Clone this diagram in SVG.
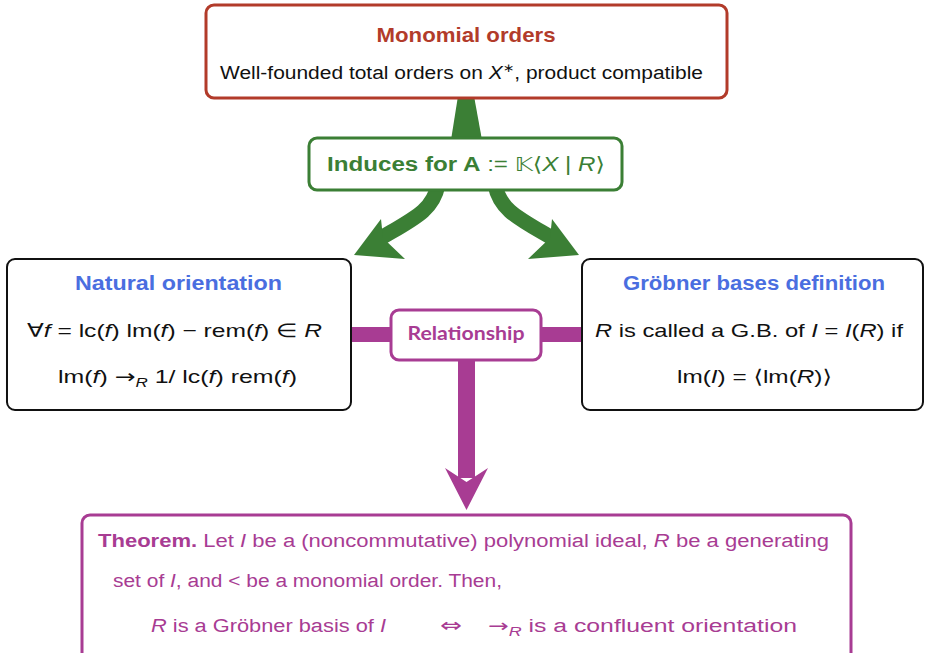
<svg xmlns="http://www.w3.org/2000/svg" width="925" height="653" viewBox="0 0 925 653">
<style>
.box{fill:#fff;stroke-linejoin:round}
.t{font-family:"Liberation Sans","DejaVu Sans",sans-serif}
.m{font-family:"DejaVu Sans","Liberation Sans",sans-serif}
.b{font-weight:bold}
.i{font-style:italic}
.red{fill:#b23b2a}
.grn{fill:#3b7f35}
.blu{fill:#4a6ee0}
.pur{fill:#a83c93}
.blk{fill:#111}
</style>
<rect width="925" height="653" fill="#fff"/>
<g id="connectors">
  <polygon points="458,96 474,96 482,140 451,140" fill="#3b7f35"/>
  <path d="M438 185 C433 210 415 218 381 238" fill="none" stroke="#3b7f35" stroke-width="15"/>
  <polygon points="354,255 381,219 383,238 405,259" fill="#3b7f35"/>
  <path d="M495 185 C500 210 518 218 552 238" fill="none" stroke="#3b7f35" stroke-width="15"/>
  <polygon points="579,255 552,219 550,238 528,259" fill="#3b7f35"/>
  <rect x="349" y="327" width="44" height="15" fill="#a83c93"/>
  <rect x="539" y="327" width="45" height="15" fill="#a83c93"/>
  <rect x="458" y="358" width="17" height="120" fill="#a83c93"/>
  <polygon points="466.5,510 445,468 466.5,482 488,468" fill="#a83c93"/>
</g>
<g id="monomial-orders">
  <rect class="box" x="206" y="5" width="521" height="93" rx="8" stroke="#b23b2a" stroke-width="3"/>
  <text class="t b red" x="466" y="42" font-size="21" text-anchor="middle" textLength="179" lengthAdjust="spacingAndGlyphs">Monomial orders</text>
  <text class="t blk" x="220" y="79" font-size="18" textLength="483" lengthAdjust="spacingAndGlyphs">Well-founded total orders on <tspan class="i">X</tspan><tspan font-size="12" dy="-7">∗</tspan><tspan dy="7">, product compatible</tspan></text>
</g>
<g id="induces">
  <rect class="box" x="309" y="138" width="313" height="52" rx="8" stroke="#3b7f35" stroke-width="3"/>
  <text class="t grn" x="327" y="171" font-size="20" textLength="278" lengthAdjust="spacingAndGlyphs"><tspan class="b">Induces for A</tspan> := <tspan class="m">𝕂⟨</tspan><tspan class="i">X</tspan> | <tspan class="i">R</tspan><tspan class="m">⟩</tspan></text>
</g>
<g id="natural-orientation">
  <rect class="box" x="7" y="259" width="344" height="151" rx="8" stroke="#111" stroke-width="2"/>
  <text class="t b blu" x="178.5" y="290" font-size="20" text-anchor="middle" textLength="207" lengthAdjust="spacingAndGlyphs">Natural orientation</text>
  <text class="t blk" x="27" y="337" font-size="19" textLength="295" lengthAdjust="spacingAndGlyphs">∀<tspan class="i">f</tspan> = lc(<tspan class="i">f</tspan>) lm(<tspan class="i">f</tspan>) − rem(<tspan class="i">f</tspan>) ∈ <tspan class="i">R</tspan></text>
  <text class="t blk" x="58" y="383" font-size="19" textLength="239" lengthAdjust="spacingAndGlyphs">lm(<tspan class="i">f</tspan>) <tspan class="m">→</tspan><tspan class="i" font-size="13" dy="4">R</tspan><tspan dy="-4"> 1/ lc(</tspan><tspan class="i">f</tspan>) rem(<tspan class="i">f</tspan>)</text>
</g>
<g id="grobner-definition">
  <rect class="box" x="582" y="259" width="341" height="151" rx="8" stroke="#111" stroke-width="2"/>
  <text class="t b blu" x="754" y="290" font-size="20" text-anchor="middle" textLength="262" lengthAdjust="spacingAndGlyphs">Gröbner bases definition</text>
  <text class="t blk" x="595" y="337" font-size="19" textLength="308" lengthAdjust="spacingAndGlyphs"><tspan class="i">R</tspan> is called a G.B. of <tspan class="i">I</tspan> = <tspan class="i">I</tspan>(<tspan class="i">R</tspan>) if</text>
  <text class="t blk" x="677" y="383" font-size="19" textLength="155" lengthAdjust="spacingAndGlyphs">lm(<tspan class="i">I</tspan>) = <tspan class="m">⟨</tspan>lm(<tspan class="i">R</tspan>)<tspan class="m">⟩</tspan></text>
</g>
<g id="relationship">
  <rect class="box" x="391" y="310" width="150" height="50" rx="8" stroke="#a83c93" stroke-width="3"/>
  <text class="b pur" x="466" y="340" font-size="18" font-family="Lato,'Liberation Sans',sans-serif" text-anchor="middle" textLength="117" lengthAdjust="spacingAndGlyphs">Relationship</text>
</g>
<g id="theorem">
  <rect class="box" x="82" y="515" width="769" height="150" rx="8" stroke="#a83c93" stroke-width="3"/>
  <text class="t pur" x="98" y="547" font-size="18" textLength="731" lengthAdjust="spacingAndGlyphs"><tspan class="b">Theorem.</tspan> Let <tspan class="i">I</tspan> be a (noncommutative) polynomial ideal, <tspan class="i">R</tspan> be a generating</text>
  <text class="t pur" x="113" y="587" font-size="18" textLength="389" lengthAdjust="spacingAndGlyphs">set of <tspan class="i">I</tspan>, and &lt; be a monomial order. Then,</text>
  <text class="t pur" x="151" y="632" font-size="18" textLength="235" lengthAdjust="spacingAndGlyphs"><tspan class="i">R</tspan> is a Gröbner basis of <tspan class="i">I</tspan></text>
  <text class="m pur" x="440" y="632" font-size="20" textLength="22" lengthAdjust="spacingAndGlyphs">⇔</text>
  <text class="t pur" x="488" y="632" font-size="18" textLength="309" lengthAdjust="spacingAndGlyphs"><tspan class="m">→</tspan><tspan class="i" font-size="13" dy="4">R</tspan><tspan dy="-4"> is a confluent orientation</tspan></text>
</g>
</svg>
